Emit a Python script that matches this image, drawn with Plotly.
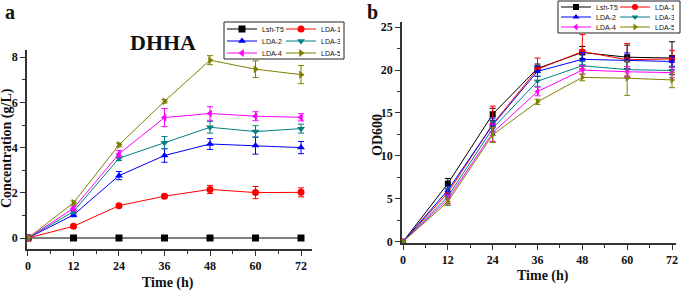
import plotly.graph_objects as go

time_h = [0, 12, 24, 36, 48, 60, 72]
series_names = ["Lsh-T5", "LDA-1", "LDA-2", "LDA-3", "LDA-4", "LDA-5"]

# Panel a: DHHA concentration (g/L)
a_lsh = [0, 0, 0, 0, 0, 0, 0]
a_lda1 = [0, 0.52, 1.43, 1.85, 2.15, 2.01, 2.02]
a_lda2 = [0, 1.02, 2.76, 3.65, 4.16, 4.09, 4.00]
a_lda3 = [0, 1.17, 3.53, 4.22, 4.90, 4.71, 4.84]
a_lda4 = [0, 1.31, 3.72, 5.33, 5.51, 5.39, 5.34]
a_lda5 = [0, 1.56, 4.12, 6.05, 7.87, 7.47, 7.23]
a_lsh_err = [0, 0, 0, 0, 0, 0, 0]
a_lda1_err = [0, 0.05, 0.06, 0.08, 0.18, 0.27, 0.20]
a_lda2_err = [0, 0.08, 0.18, 0.30, 0.24, 0.38, 0.27]
a_lda3_err = [0, 0.10, 0.10, 0.27, 0.26, 0.26, 0.20]
a_lda4_err = [0, 0.10, 0.15, 0.40, 0.30, 0.20, 0.16]
a_lda5_err = [0, 0.08, 0.08, 0.08, 0.20, 0.37, 0.40]

# Panel b: OD600
b_lsh = [0, 6.77, 14.85, 20.2, 22.05, 21.5, 21.4]
b_lda1 = [0, 5.7, 13.7, 20.1, 22.15, 21.2, 21.3]
b_lda2 = [0, 6.0, 13.6, 19.85, 21.25, 21.1, 21.0]
b_lda3 = [0, 5.25, 13.2, 18.7, 20.5, 20.05, 19.95]
b_lda4 = [0, 4.95, 12.7, 17.5, 20.0, 19.8, 19.7]
b_lda5 = [0, 4.65, 12.45, 16.3, 19.15, 19.05, 18.85]
b_lsh_err = [0, 0.6, 0.7, 0.5, 0.7, 1.4, 1.9]
b_lda1_err = [0, 0.5, 2.1, 1.3, 2.0, 1.9, 1.0]
b_lda2_err = [0, 0.5, 0.8, 0.6, 0.8, 0.9, 0.6]
b_lda3_err = [0, 1.0, 0.8, 0.6, 0.5, 0.9, 0.5]
b_lda4_err = [0, 0.5, 1.0, 0.5, 0.5, 0.6, 0.6]
b_lda5_err = [0, 0.4, 0.9, 0.3, 0.4, 2.0, 0.9]

colors = ["#000000", "#ff0000", "#0000ff", "#008080", "#ff00ff", "#808000"]
symbols = ["square", "circle", "triangle-up", "triangle-down", "triangle-left", "triangle-right"]

a_vals = [a_lsh, a_lda1, a_lda2, a_lda3, a_lda4, a_lda5]
a_errs = [a_lsh_err, a_lda1_err, a_lda2_err, a_lda3_err, a_lda4_err, a_lda5_err]
b_vals = [b_lsh, b_lda1, b_lda2, b_lda3, b_lda4, b_lda5]
b_errs = [b_lsh_err, b_lda1_err, b_lda2_err, b_lda3_err, b_lda4_err, b_lda5_err]

W, H = 685, 292


def fx(x):
    return x / W


def fy(y):
    return 1 - y / H


fig = go.Figure()

for i, name in enumerate(series_names):
    row = i // 2
    fig.add_trace(go.Scatter(
        x=time_h, y=a_vals[i], name=name, mode="lines+markers",
        line=dict(color=colors[i], width=1),
        marker=dict(symbol=symbols[i], size=7, color=colors[i]),
        error_y=dict(type="data", array=a_errs[i], color=colors[i], thickness=1, width=3),
        xaxis="x", yaxis="y",
        legend="legend" if row == 0 else "legend%d" % (row + 1),
    ))
for i, name in enumerate(series_names):
    row = i // 2
    fig.add_trace(go.Scatter(
        x=time_h, y=b_vals[i], name=name, mode="lines+markers",
        line=dict(color=colors[i], width=1),
        marker=dict(symbol=symbols[i], size=6, color=colors[i]),
        error_y=dict(type="data", array=b_errs[i], color=colors[i], thickness=1, width=3),
        xaxis="x2", yaxis="y2",
        legend="legend%d" % (row + 4),
    ))

tickfont = dict(family="Liberation Serif", size=12, color="#111", weight="bold")
axis_common = dict(
    showline=True, linecolor="#333", linewidth=1.5, ticks="outside", ticklen=5,
    tickwidth=1.2, tickcolor="#333", showgrid=False, zeroline=False, tickfont=tickfont,
    mirror=False, automargin=False,
)

fig.update_layout(
    width=W, height=H, margin=dict(l=0, r=0, t=0, b=0, autoexpand=False),
    paper_bgcolor="white", plot_bgcolor="white",
    xaxis=dict(domain=[fx(27), fx(312)], range=[-0.26, 74.9], tickvals=time_h,
               minor=dict(dtick=6, tick0=0, ticks="outside", ticklen=3, tickcolor="#333"),
               anchor="y", **axis_common),
    yaxis=dict(domain=[fy(249), fy(50)], range=[-0.487, 8.32], tickvals=[0, 2, 4, 6, 8],
               minor=dict(dtick=1, tick0=0, ticks="outside", ticklen=3, tickcolor="#333"),
               anchor="x", **axis_common),
    xaxis2=dict(domain=[fx(402), fx(676)], range=[-0.27, 73.07], tickvals=time_h,
                minor=dict(dtick=6, tick0=0, ticks="outside", ticklen=3, tickcolor="#333"),
                anchor="y2", **axis_common),
    yaxis2=dict(domain=[fy(243), fy(22)], range=[-0.15, 25.6], tickvals=[0, 5, 10, 15, 20, 25],
                minor=dict(dtick=2.5, tick0=0, ticks="outside", ticklen=3, tickcolor="#333"),
                anchor="x2", **axis_common),
)

leg_common = dict(orientation="h", bgcolor="rgba(0,0,0,0)", borderwidth=0,
                  xanchor="left", yanchor="middle", itemwidth=30,
                  tracegroupgap=0, itemclick=False, entrywidth=14)
a_rows = [29, 41, 53]
b_rows = [7, 17, 27]
a_left, b_left = 222, 556
for r in range(3):
    key = "legend" if r == 0 else "legend%d" % (r + 1)
    fig.update_layout({key: dict(x=fx(a_left), y=fy(a_rows[r]),
                                 font=dict(family="Liberation Sans", size=7, color="#111"),
                                 **leg_common)})
    key2 = "legend%d" % (r + 4)
    fig.update_layout({key2: dict(x=fx(b_left), y=fy(b_rows[r]),
                                  font=dict(family="Liberation Sans", size=7, color="#111"),
                                  **leg_common)})

fig.add_shape(type="rect", xref="paper", yref="paper",
              x0=fx(a_left + 2), x1=fx(344), y0=fy(59), y1=fy(22),
              line=dict(color="#222", width=1))
fig.add_shape(type="rect", xref="paper", yref="paper",
              x0=fx(b_left + 2), x1=fx(680), y0=fy(33), y1=fy(1),
              line=dict(color="#222", width=1))


def ann(text, x, y, size, angle=0):
    fig.add_annotation(text=text, x=fx(x), y=fy(y), xref="paper", yref="paper",
                       showarrow=False, textangle=angle, xanchor="center", yanchor="middle",
                       font=dict(family="Liberation Serif", size=size, color="#111"))


ann("<b>a</b>", 10, 12, 20)
ann("<b>b</b>", 372, 12, 20)
ann("<b>DHHA</b>", 163, 42, 22)
ann("<b>Concentration (g/L)</b>", 7, 148, 14, -90)
ann("<b>Time (h)</b>", 168, 283, 14)
ann("<b>OD600</b>", 377, 135, 14, -90)
ann("<b>Time (h)</b>", 543, 276, 14)

fig.write_html(
    "out.html",
    config={"displayModeBar": False},
    post_script="document.body.style.margin='0';document.body.style.padding='0';"
                "document.body.style.overflow='hidden';",
)
